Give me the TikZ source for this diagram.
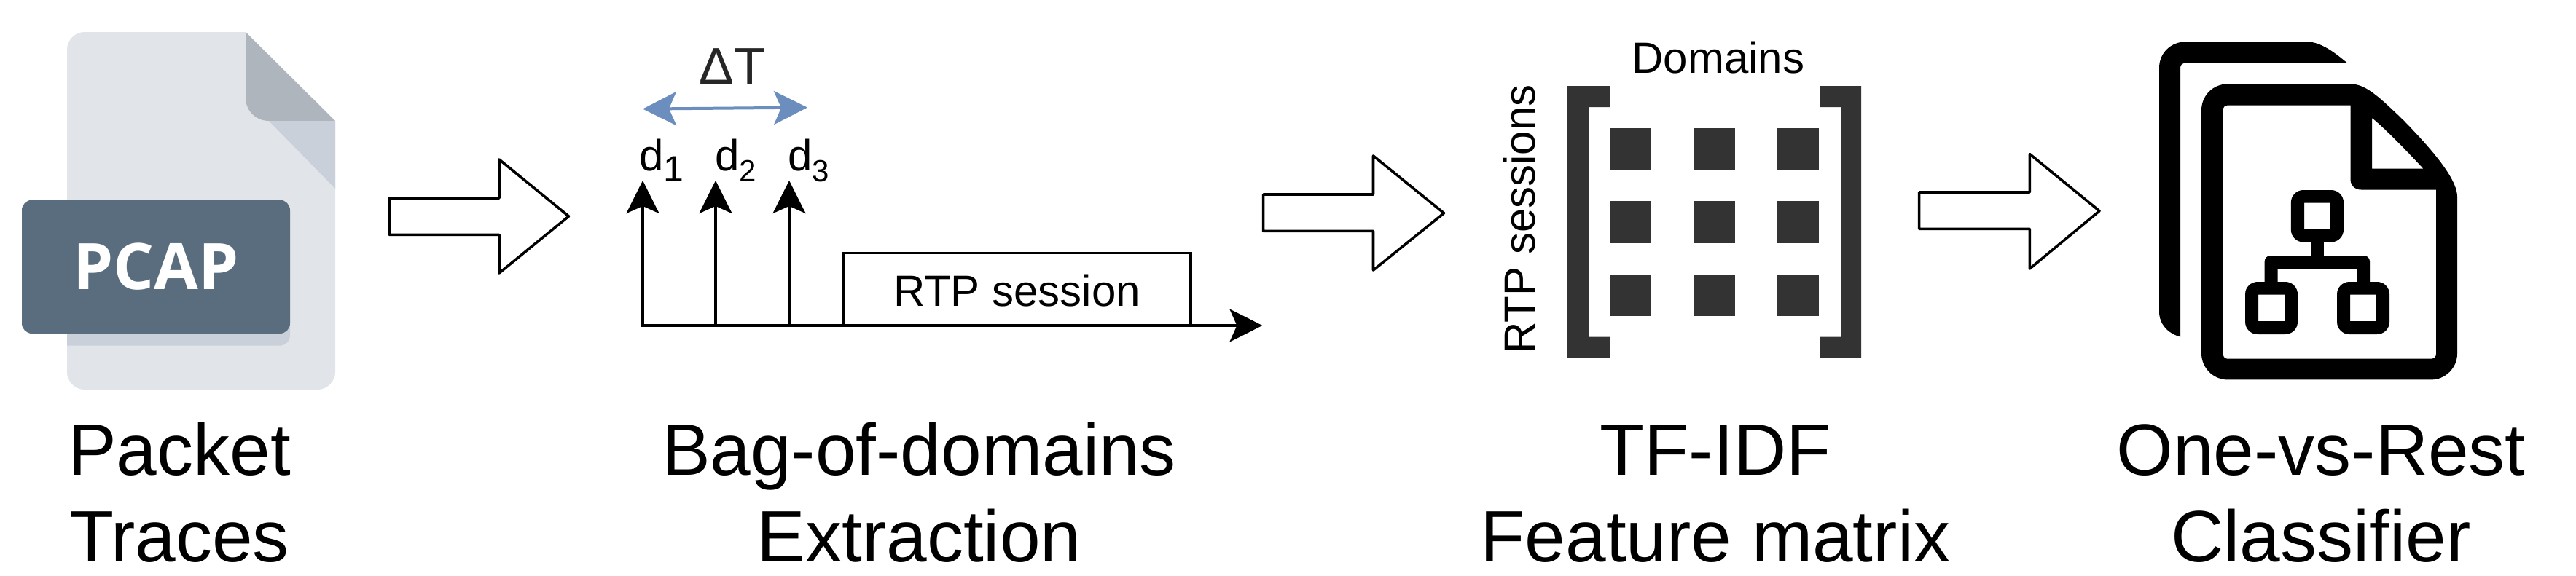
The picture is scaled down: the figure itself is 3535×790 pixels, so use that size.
\documentclass[tikz,border=0pt]{standalone}
\usepackage{fontspec}
\setmainfont{Liberation Sans}
\newfontfamily\pcapfont{Open Sans}
\usetikzlibrary{arrows.meta}
\definecolor{fileBody}{HTML}{E1E5E9}
\definecolor{fileFold}{HTML}{AEB5BD}
\definecolor{fileShade}{HTML}{C9D0D9}
\definecolor{fileLabel}{HTML}{596D7F}
\definecolor{spanBlue}{HTML}{6C8EBF}
\definecolor{matrixInk}{HTML}{333333}
\tikzset{
  caption/.style={anchor=south,inner sep=0pt,align=center,font=\fontsize{100}{119.4}\selectfont},
  midtext/.style={anchor=base,inner sep=0pt,font=\fontsize{60}{70}\selectfont},
  dlabel/.style={anchor=base west,inner sep=0pt,font=\fontsize{60}{70}\selectfont},
  blockarrow/.style={draw=black,fill=white,line width=3.6pt,line join=round},
  tickarrow/.style={draw=black,line width=3.6pt,-{Stealth[length=45pt,width=45pt,inset=10pt]}},
  spanarrow/.style={draw=spanBlue,line width=4pt,{Stealth[length=46pt,width=46pt,inset=10pt]}-{Stealth[length=46pt,width=46pt,inset=10pt]}},
  sessionbox/.style={draw=black,line width=3.6pt,fill=white},
  cell/.style={fill=matrixInk},
}
\newcommand{\dsub}[2]{d\raisebox{-15pt}{\fontsize{#1}{#1}\selectfont #2}}
\begin{document}
\begin{tikzpicture}[x=1pt,y=-1pt]
\useasboundingbox (0,0) rectangle (3535,790);

% --- PCAP file icon
\fill[fileBody] (116,44) -- (337,44) -- (460,166) -- (460,511) .. controls (460,524) and (449,535) .. (436,535) -- (116,535) .. controls (103,535) and (92,524) .. (92,511) -- (92,68) .. controls (92,55) and (103,44) .. (116,44) -- cycle;
\fill[fileFold] (337,44) -- (460,166) -- (369,166) .. controls (351,166) and (337,152) .. (337,134) -- cycle;
\fill[fileShade] (369,166) -- (460,166) -- (460,259) -- cycle;
\fill[fileShade] (92,440) -- (398,440) -- (398,460) .. controls (398,468) and (392,474.6) .. (384,474.6) -- (92,474.6) -- cycle;
\fill[fileLabel,rounded corners=14] (30,274.6) rectangle (398,458);
\node[anchor=base,inner sep=0pt,text=white,font={\pcapfont\bfseries\fontsize{88}{100}\selectfont}] (pcap) at (214,397) {PCAP};
\node[caption] (packet) at (246,773) {Packet\\Traces};

% --- block arrows
\draw[blockarrow] (534,272) -- (685,272) -- (685,219) -- (780.5,297) -- (685,375) -- (685,322.4) -- (534,322.4) -- cycle;
\draw[blockarrow] (1733.6,267) -- (1884.5,267) -- (1884.5,214) -- (1981.5,292.7) -- (1884.5,371) -- (1884.5,317.4) -- (1733.6,317.4) -- cycle;
\draw[blockarrow] (2633.6,264) -- (2785.4,264) -- (2785.4,211.6) -- (2881,289.7) -- (2785.4,369) -- (2785.4,314.4) -- (2633.6,314.4) -- cycle;

% --- bag of domains timeline
\coordinate (t1) at (882,447);
\coordinate (t2) at (982,447);
\coordinate (t3) at (1083,447);
\coordinate (d1tip) at (882,248);
\coordinate (d2tip) at (982,248);
\coordinate (d3tip) at (1083,248);
\coordinate (axisEnd) at (1732.4,447);
\coordinate (spanL) at (882,149.6);
\coordinate (spanR) at (1108,147.6);
\node[sessionbox,minimum width=477pt,minimum height=99.4pt,inner sep=0pt] (session) at (1395.5,397.3) {};
\node[midtext] (rtp) at (1395.5,420) {RTP session};
\draw[tickarrow] (t1) -- (d1tip);
\draw[tickarrow] (t2) -- (d2tip);
\draw[tickarrow] (t3) -- (d3tip);
\draw[tickarrow] ([xshift=-1.8pt]t1) -- (axisEnd);
\draw[spanarrow] (spanL) -- (spanR);
\node[anchor=base,inner sep=0pt,text=black!85,font=\fontsize{71}{80}\selectfont] (deltat) at (1005,115) {ΔT};
\node[dlabel] (d1) at (877,234) {\dsub{50}{1}};
\node[dlabel] (d2) at (981,234) {\dsub{42}{2}};
\node[dlabel] (d3) at (1081,234) {\dsub{42}{3}};
\node[caption] (bag) at (1261,773) {Bag-of-domains\\Extraction};

% --- feature matrix
\node[midtext] (domains) at (2358,100) {Domains};
\node[midtext,rotate=90] (sessions) at (2106,301) {RTP sessions};
\fill[matrixInk] (2209,118) -- (2151,118) -- (2151,491.7) -- (2209,491.7) -- (2209,462.5) -- (2180,462.5) -- (2180,147) -- (2209,147) -- cycle;
\fill[matrixInk] (2497,118) -- (2554,118) -- (2554,491.7) -- (2497,491.7) -- (2497,462.5) -- (2526,462.5) -- (2526,147) -- (2497,147) -- cycle;
\fill[cell] (2209,176) rectangle (2266,233);
\fill[cell] (2324,176) rectangle (2381,233);
\fill[cell] (2439,176) rectangle (2496,233);
\fill[cell] (2209,276) rectangle (2266,333.5);
\fill[cell] (2324,276) rectangle (2381,333.5);
\fill[cell] (2439,276) rectangle (2496,333.5);
\fill[cell] (2209,377) rectangle (2266,434);
\fill[cell] (2324,377) rectangle (2381,434);
\fill[cell] (2439,377) rectangle (2496,434);
\node[caption] (tfidf) at (2354,773) {TF-IDF\\Feature matrix};

% --- classifier icon
\fill[black] (2992,462.5) .. controls (2975,458) and (2963,445) .. (2963,428) -- (2963,93) .. controls (2963,73) and (2979,57.4) .. (2999,57.4) -- (3166,57.4) .. controls (3185,57.4) and (3205,73) .. (3221,86.6) -- (2999,86.6) .. controls (2995,86.6) and (2992,89) .. (2992,93) -- cycle;
\fill[black,even odd rule] (3057,115.4) -- (3225.6,115.4) .. controls (3245,115.4) and (3262,130) .. (3299,166) .. controls (3335,203) and (3372,245) .. (3372,270) -- (3372,485.4) .. controls (3372,505) and (3356,521.4) .. (3336,521.4) -- (3057,521.4) .. controls (3037,521.4) and (3021,505) .. (3021,485.4) -- (3021,151.4) .. controls (3021,131) and (3037,115.4) .. (3057,115.4) -- cycle
 (3057,144.6) -- (3225.6,144.6) -- (3225.6,247) .. controls (3225.6,255) and (3232,260.5) .. (3240,260.5) -- (3343,260.5) -- (3343,486) .. controls (3343,490) and (3340,492.7) .. (3336,492.7) -- (3057,492.7) .. controls (3053,492.7) and (3050.7,490) .. (3050.7,486) -- (3050.7,151) .. controls (3050.7,147) and (3053,144.6) .. (3057,144.6) -- cycle
 (3255,162) .. controls (3275,178) and (3310,215) .. (3325.5,231.7) -- (3255,231.7) -- cycle;
\fill[black,even odd rule,rounded corners=17] (3143.8,261) rectangle (3216,332.5) [sharp corners] (3162,278.6) rectangle (3198,315);
\fill[black,even odd rule,rounded corners=17] (3081,387) rectangle (3153,459) [sharp corners] (3099,404.5) rectangle (3135,441);
\fill[black,even odd rule,rounded corners=17] (3207,387) rectangle (3279,459) [sharp corners] (3225,404.5) rectangle (3261,441);
\fill[black] (3171,330) rectangle (3189,353);
\fill[black] (3107.7,392) [rounded corners=8] -- (3107.7,351) -- (3252,351) [sharp corners] -- (3252,392) -- (3234,392) -- (3234,368.8) -- (3125.7,368.8) -- (3125.7,392) -- cycle;
\node[caption] (ovr) at (3185,773) {One-vs-Rest\\Classifier};
\end{tikzpicture}
\end{document}
